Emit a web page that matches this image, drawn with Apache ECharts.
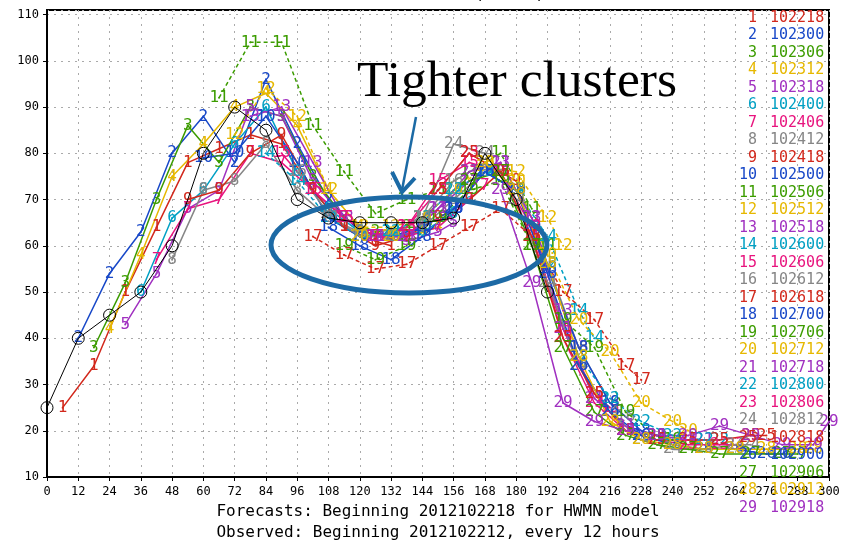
<!DOCTYPE html>
<html>
<head>
<meta charset="utf-8">
<script src="https://cdn.jsdelivr.net/npm/echarts@6/dist/echarts.min.js"></script>
<style>
  html, body { margin: 0; padding: 0; background: #fff; }
  #chart { width: 855px; height: 540px; }
</style>
</head>
<body>
<div id="chart"></div>
<script>
// run start codes (MMDDHH) and observed track, 12-hourly from 2012102212
const runCodes = ['102218', '102300', '102306', '102312', '102318', '102400', '102406', '102412',
  '102418', '102500', '102506', '102512', '102518', '102600', '102606', '102612', '102618',
  '102700', '102706', '102712', '102718', '102800', '102806', '102812', '102818', '102900',
  '102906', '102912', '102918']
const obsHours = [0, 12, 24, 36, 48, 60, 72, 84, 96, 108, 120, 132, 144, 156, 168, 180, 192]
const obsValues = [25, 40, 45, 50, 60, 80, 90, 85, 70, 66, 65, 65, 65, 66, 80, 70, 50]

// forecast lead hours of each plotted point
const leadHours = [0, 12, 24, 36, 48, 60, 72, 84, 96, 108, 120, 126]

// forecast max wind (kt), one list per run
const run01 = [25, 34, 50, 64, 78, 81, 84, 82, 72, 64, 61, 60]
const run02 = [40, 54, 63, 80, 88, 78, 96, 82, 70, 63, 62, 62]
const run03 = [38, 52, 70, 86, 78, 90, 88, 75, 66, 63, 64, 64]
const run04 = [42, 58, 75, 82, 90, 93, 86, 72, 64, 62, 63, 64]
const run05 = [43, 54, 68, 72, 90, 88, 74, 66, 62, 61, 63, 65]
const run06 = [50, 66, 72, 82, 90, 76, 68, 63, 62, 63, 67, 70]
const run07 = [57, 68, 70, 80, 78, 72, 66, 62, 62, 64, 70, 73]
const run08 = [57, 72, 74, 82, 72, 66, 63, 62, 64, 70, 76, 76]
const run09 = [70, 72, 80, 84, 72, 64, 60, 62, 66, 70, 76, 74]
const run10 = [79, 80, 88, 78, 66, 62, 62, 64, 68, 76, 72, 64]
const run11 = [92, 104, 104, 86, 76, 67, 70, 72, 76, 80, 68, 60]
const run12 = [84, 94, 88, 72, 64, 64, 66, 72, 77, 76, 66, 60]
const run13 = [88, 90, 78, 66, 62, 62, 68, 74, 78, 66, 46, 38]
const run14 = [80, 74, 66, 62, 63, 66, 72, 76, 72, 62, 46, 40]
const run15 = [80, 72, 66, 62, 64, 74, 78, 76, 62, 42, 28, 25]
const run16 = [76, 67, 62, 62, 66, 74, 78, 72, 56, 38, 26, 23]
const run17 = [62, 58, 55, 56, 60, 64, 68, 62, 50, 44, 34, 31]
const run18 = [64, 60, 57, 62, 68, 76, 72, 55, 38, 26, 20, 19]
const run19 = [60, 57, 60, 66, 72, 74, 60, 44, 38, 24, 19, 18]
const run20 = [62, 62, 66, 72, 78, 74, 58, 44, 37, 26, 22, 20]
const run21 = [62, 62, 68, 76, 78, 66, 42, 27, 21, 19, 18, 18]
const run22 = [63, 66, 72, 76, 72, 56, 36, 27, 22, 19, 18, 18]
const run23 = [64, 72, 80, 76, 64, 40, 26, 20, 18, 17, 17, 17]
const run24 = [66, 82, 80, 70, 52, 34, 24, 18, 16, 16, 17, 17]
const run25 = [72, 80, 76, 62, 40, 28, 20, 18, 18, 18, 19, 19]
const run26 = [68, 76, 72, 54, 34, 24, 19, 17, 16, 16, 15, 15]
const run27 = [74, 76, 60, 38, 24, 19, 17, 16, 15, 15, 15, 15]
const run28 = [78, 72, 56, 36, 22, 18, 17, 16, 16, 16, 16, 16]
const run29 = [72, 52, 26, 22, 20, 19, 19, 21, 19, 17, 17, 22]

const runs = [run01, run02, run03, run04, run05, run06, run07, run08, run09, run10,
  run11, run12, run13, run14, run15, run16, run17, run18, run19, run20,
  run21, run22, run23, run24, run25, run26, run27, run28, run29]

const palette = ['#d2281c', '#1848c8', '#3c9c00', '#e6b800', '#a030c0', '#00a0c4', '#e8147e', '#868686']
const dashedRuns = [11, 12, 14, 17, 19, 20, 22]
const monoFont = '"DejaVu Sans Mono", monospace'

// hours since 2012102212 for a MMDDHH code
function startHour(code) {
  const day = +code.slice(2, 4)
  const hh = +code.slice(4, 6)
  return (day - 22) * 24 + hh - 12
}

const chart = echarts.init(document.getElementById('chart'))

const series = runs.map((vals, i) => {
  const n = i + 1
  const color = palette[i % 8]
  const t0 = startHour(runCodes[i])
  return {
    name: String(n),
    type: 'line',
    data: vals.map((v, j) => [t0 + leadHours[j], v]),
    symbol: 'circle',
    symbolSize: 2,
    itemStyle: { color },
    lineStyle: { color, width: 1.5, type: dashedRuns.includes(n) ? [4, 3] : 'solid' },
    label: {
      show: true,
      position: 'inside',
      formatter: String(n),
      color,
      fontFamily: monoFont,
      fontSize: 16
    },
    z: 2
  }
})

series.push({
  name: 'obs',
  type: 'line',
  data: obsValues.map((v, j) => [obsHours[j], v]),
  symbol: 'circle',
  symbolSize: 12,
  itemStyle: { color: 'rgba(0,0,0,0)', borderColor: '#000', borderWidth: 1 },
  lineStyle: { color: '#000', width: 1 },
  z: 3
})

// legend block drawn as text inside the plot
const legendTexts = []
runCodes.forEach((code, i) => {
  const color = palette[i % 8]
  const y = 18 + i * 17.5
  legendTexts.push({
    type: 'text', z: 10,
    style: { text: String(i + 1), x: 757, y, align: 'right', verticalAlign: 'middle',
      font: '15px ' + monoFont, fill: color }
  })
  legendTexts.push({
    type: 'text', z: 10,
    style: { text: code, x: 770, y, align: 'left', verticalAlign: 'middle',
      font: '15px ' + monoFont, fill: color }
  })
})

chart.setOption({
  animation: false,
  backgroundColor: '#fff',
  grid: {
    left: 47, right: 26, top: 10, bottom: 63,
    show: true, borderColor: '#000', borderWidth: 2
  },
  xAxis: {
    type: 'value', min: 0, max: 300, interval: 12,
    axisLine: { lineStyle: { color: '#000', width: 2 } },
    axisTick: { length: 4, lineStyle: { color: '#000' } },
    axisLabel: { color: '#000', fontFamily: monoFont, fontSize: 12, margin: 9 },
    splitLine: { show: true, lineStyle: { color: '#aaa', type: [2, 5], width: 1 } }
  },
  yAxis: {
    type: 'value', min: 10, max: 111, interval: 10,
    axisLine: { show: true, lineStyle: { color: '#000', width: 2 } },
    axisTick: { show: true, length: 4, lineStyle: { color: '#000' } },
    axisLabel: { color: '#000', fontFamily: monoFont, fontSize: 12, margin: 8, showMaxLabel: false },
    splitLine: { show: true, lineStyle: { color: '#aaa', type: [2, 5], width: 1 } }
  },
  series,
  graphic: [
    {
      type: 'text', z: 10,
      style: { text: 'Storm: AL1812 (SANDY)', x: 438, y: -5, align: 'center', verticalAlign: 'middle',
        font: '17px ' + monoFont, fill: '#000' }
    },
    {
      type: 'text', z: 10,
      style: { text: 'Forecasts: Beginning 2012102218 for HWMN model', x: 438, y: 512,
        align: 'center', verticalAlign: 'middle', font: '16px ' + monoFont, fill: '#000' }
    },
    {
      type: 'text', z: 10,
      style: { text: 'Observed: Beginning 2012102212, every 12 hours', x: 438, y: 533,
        align: 'center', verticalAlign: 'middle', font: '16px ' + monoFont, fill: '#000' }
    },
    {
      type: 'text', z: 20,
      style: { text: 'Tighter clusters', x: 357, y: 82, align: 'left', verticalAlign: 'middle',
        font: '51.5px "Liberation Serif", serif', fill: '#000' }
    },
    {
      type: 'polyline', z: 20,
      shape: { points: [[416, 117], [402, 190]] },
      style: { stroke: '#1b6aa5', lineWidth: 2.5, fill: null }
    },
    {
      type: 'polyline', z: 20,
      shape: { points: [[392, 172], [402, 192], [415, 178]] },
      style: { stroke: '#1b6aa5', lineWidth: 4, fill: null }
    },
    {
      type: 'ellipse', z: 20,
      shape: { cx: 409, cy: 245, rx: 138, ry: 48 },
      style: { stroke: '#1d6aa5', lineWidth: 5, fill: null }
    }
  ].concat(legendTexts)
})
</script>
</body>
</html>
